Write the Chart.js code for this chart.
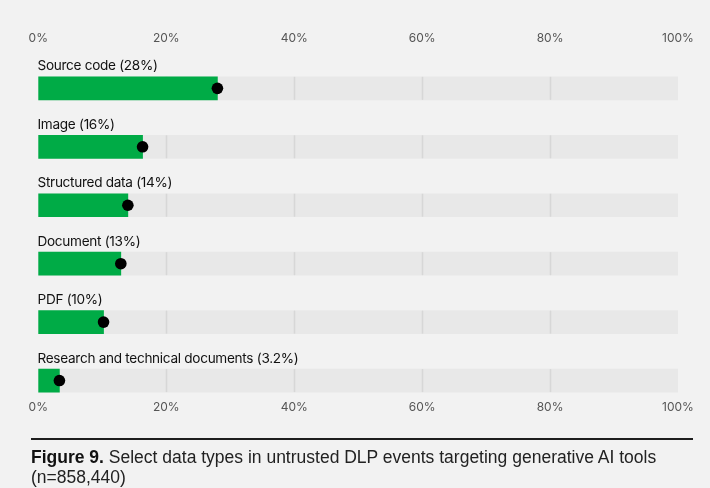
<!DOCTYPE html>
<html>
<head>
<meta charset="utf-8">
<script src="https://cdn.jsdelivr.net/npm/chart.js@4/dist/chart.umd.min.js"></script>
<style>
  html, body { margin: 0; padding: 0; background: #f2f2f2; }
  #wrap { position: relative; width: 710px; height: 488px; overflow: hidden; }
  canvas { position: absolute; left: 0; top: 0; }
  #rule { position: absolute; left: 31px; top: 438px; width: 662px; height: 2px; background: #1e1e1e; }
  #caption { position: absolute; left: 31px; top: 447px; font-family: "Liberation Sans", Arial, sans-serif;
             font-size: 17.5px; line-height: 20px; color: #222; }
  #caption b { font-weight: bold; color: #111; }
</style>
</head>
<body>
<div id="wrap">
  <canvas id="c" width="710" height="488"></canvas>
  <div id="rule"></div>
  <div id="caption"><b>Figure 9.</b> Select data types in untrusted DLP events targeting generative AI tools<br>(n=858,440)</div>
</div>
<script>
// ---- data ----
const categories = [
  "Source code (28%)",
  "Image (16%)",
  "Structured data (14%)",
  "Document (13%)",
  "PDF (10%)",
  "Research and technical documents (3.2%)"
];
const shareValues = [28, 16.3, 14, 12.9, 10.2, 3.3];
const trackValues = [100, 100, 100, 100, 100, 100];
const tickValues = [0, 20, 40, 60, 80, 100];
const gridValues = [20, 40, 60, 80];

const GREEN = "#00ab46";
const TRACK = "#e8e8e8";
const GRID = "#d7d7d7";

const rowPoints = (vals) => vals.map((v, i) => ({ x: v, y: i }));

const trackGrid = {
  id: "trackGrid",
  afterDatasetDraw(chart, args) {
    if (args.index !== 0) return;
    const ctx = chart.ctx;
    const xs = chart.scales.x;
    ctx.save();
    ctx.strokeStyle = GRID;
    ctx.lineWidth = 1.5;
    args.meta.data.forEach((el) => {
      const p = el.getProps(["y", "height"], true);
      gridValues.forEach((g) => {
        const px = Math.round(xs.getPixelForValue(g)) + 0.5;
        ctx.beginPath();
        ctx.moveTo(px, p.y - p.height / 2);
        ctx.lineTo(px, p.y + p.height / 2);
        ctx.stroke();
      });
    });
    ctx.restore();
  }
};

const rowLabels = {
  id: "rowLabels",
  afterDatasetsDraw(chart) {
    const ctx = chart.ctx;
    const meta = chart.getDatasetMeta(0);
    ctx.save();
    ctx.fillStyle = "#111";
    ctx.font = "13.6px Inter, 'Noto Sans', sans-serif";
    if ("letterSpacing" in ctx) ctx.letterSpacing = "-0.3px";
    ctx.textAlign = "left";
    ctx.textBaseline = "alphabetic";
    meta.data.forEach((el, i) => {
      const p = el.getProps(["y", "height"], true);
      ctx.fillText(categories[i], chart.chartArea.left - 0.8, p.y - p.height / 2 - 6.5);
    });
    ctx.restore();
  }
};

const tickFont = { family: "Inter, 'Noto Sans', sans-serif", size: 12 };
const tickCb = (v) => v + "%";

new Chart(document.getElementById("c"), {
  type: "bar",
  data: {
    datasets: [
      {
        label: "track",
        data: rowPoints(trackValues),
        backgroundColor: TRACK,
        barThickness: 23,
        grouped: false,
        order: 3
      },
      {
        label: "share",
        data: rowPoints(shareValues),
        backgroundColor: GREEN,
        barThickness: 23,
        grouped: false,
        order: 2
      },
      {
        type: "scatter",
        label: "marker",
        data: rowPoints(shareValues),
        backgroundColor: "#000",
        borderColor: "#000",
        pointRadius: 5.8,
        pointBorderWidth: 0,
        order: 1
      }
    ]
  },
  plugins: [trackGrid, rowLabels],
  options: {
    indexAxis: "y",
    responsive: false,
    animation: false,
    devicePixelRatio: 1,
    layout: { padding: { left: 38.3, right: 32, top: 27.5, bottom: 70 } },
    plugins: { legend: { display: false }, tooltip: { enabled: false } },
    scales: {
      x: {
        type: "linear", position: "top", min: 0, max: 100,
        afterBuildTicks: (s) => { s.ticks = tickValues.map((v) => ({ value: v })); },
        grid: { display: false, drawTicks: false },
        border: { display: false },
        ticks: { font: tickFont, color: "#555", padding: 3.6, callback: tickCb }
      },
      x2: {
        type: "linear", position: "bottom", min: 0, max: 100,
        afterBuildTicks: (s) => { s.ticks = tickValues.map((v) => ({ value: v })); },
        grid: { display: false, drawTicks: false },
        border: { display: false },
        ticks: { font: tickFont, color: "#555", padding: 3.6, callback: tickCb }
      },
      y: {
        type: "linear", display: false, reverse: true, offset: false,
        grid: { offset: false },
        min: -0.672, max: 5.271
      }
    }
  }
});
</script>
</body>
</html>
